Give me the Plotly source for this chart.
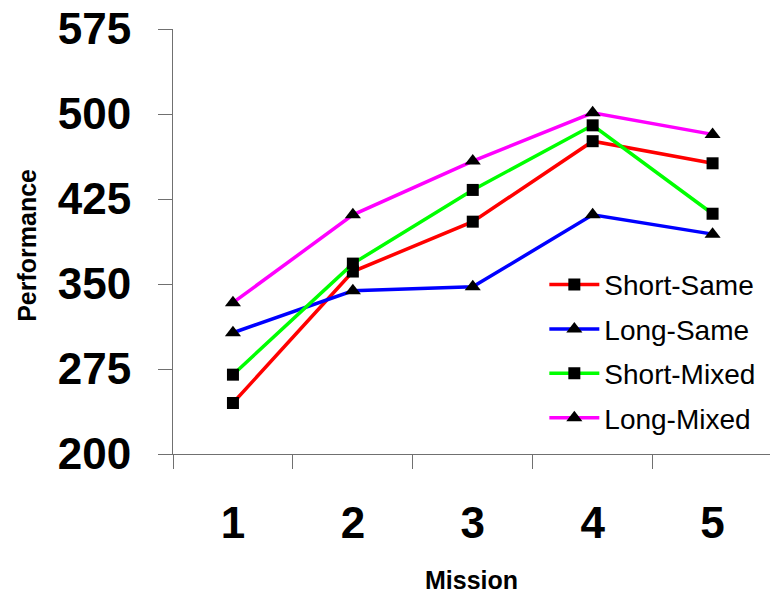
import plotly.graph_objects as go

missions = ["1", "2", "3", "4", "5"]
short_same = [245, 361, 405, 476, 456.5]
long_same = [307, 344, 347.5, 411, 394]
short_mixed = [270, 368, 433, 490, 412]
long_mixed = [333.5, 411, 458.5, 501, 482]

y_ticks = [200, 275, 350, 425, 500, 575]

series = [
    ("Short-Same", short_same, "#FF0000", "square", 12),
    ("Long-Same", long_same, "#0000FF", "triangle-up", 14),
    ("Short-Mixed", short_mixed, "#00FF00", "square", 12),
    ("Long-Mixed", long_mixed, "#FF00FF", "triangle-up", 14),
]

FONT = "Liberation Sans, Arial, sans-serif"

fig = go.Figure()
for i, (name, vals, color, symbol, size) in enumerate(series):
    fig.add_trace(go.Scatter(
        x=missions, y=vals, name=name, mode="lines+markers",
        line=dict(color=color, width=3.5),
        marker=dict(symbol=symbol, size=size, color="black",
                    line=dict(width=0)),
        legendgroup=f"g{i}",
    ))

fig.update_layout(
    width=770, height=595,
    margin=dict(l=173, r=0, t=29, b=141),
    plot_bgcolor="white", paper_bgcolor="white",
    font=dict(family=FONT, color="black"),
    showlegend=True,
    legend=dict(
        x=0.622, y=0.457, xanchor="left", yanchor="top",
        font=dict(size=28, family=FONT, color="black"),
        bgcolor="rgba(0,0,0,0)",
        traceorder="grouped", tracegroupgap=5,
        itemwidth=50,
    ),
)

fig.update_xaxes(
    type="category", range=[-0.5, 4.479],
    showline=True, linecolor="#707070", linewidth=1,
    ticks="outside", ticklen=14, tickcolor="#707070", tickwidth=1,
    tickson="boundaries",
    showgrid=False, zeroline=False,
    tickfont=dict(size=44, family=FONT, weight="bold"),
    ticklabelstandoff=30,
)
fig.update_yaxes(
    range=[200, 575], tickvals=y_ticks,
    showline=True, linecolor="#707070", linewidth=1,
    ticks="outside", ticklen=14, tickcolor="#707070", tickwidth=1,
    showgrid=False, zeroline=False,
    tickfont=dict(size=44, family=FONT, weight="bold"),
    ticklabelstandoff=18,
)

fig.add_annotation(
    text="Mission", xref="paper", yref="paper", x=0.5,
    y=-0.296, showarrow=False, xanchor="center", yanchor="middle",
    font=dict(size=25, family=FONT, weight="bold"),
)
fig.add_annotation(
    text="Performance", xref="paper", yref="paper", x=-0.2446, y=0.492,
    textangle=-90, showarrow=False, xanchor="center", yanchor="middle",
    font=dict(size=25, family=FONT, weight="bold"),
)

fig.write_html("out.html")
